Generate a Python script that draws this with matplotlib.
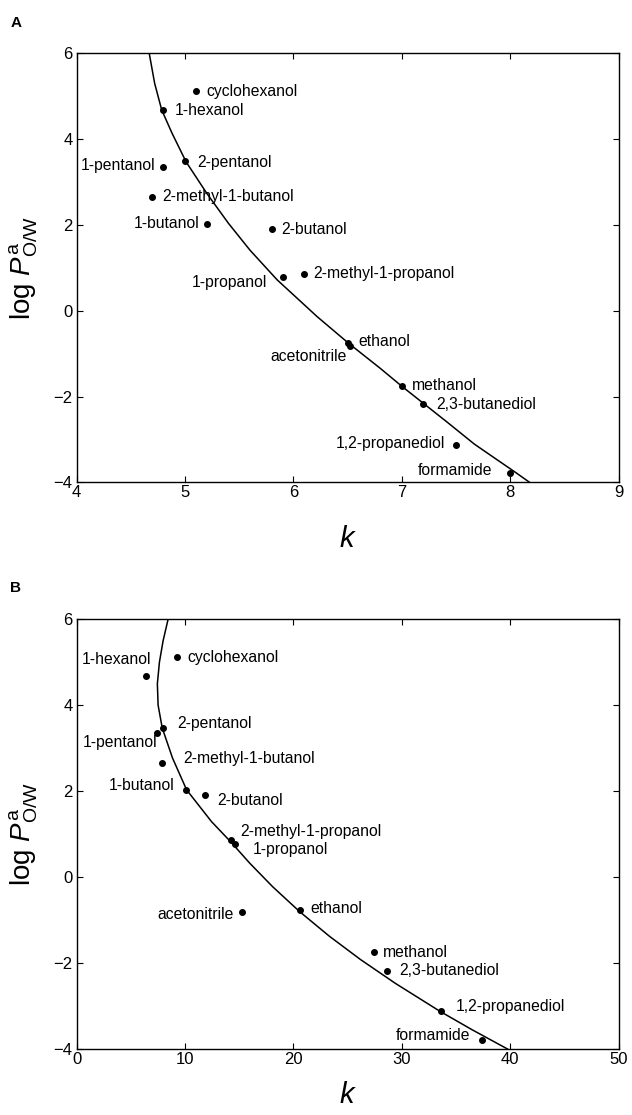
import matplotlib
matplotlib.use("Agg")
import matplotlib.pyplot as plt

plt.rcParams['font.family'] = ['Liberation Sans', 'DejaVu Sans']
plt.rcParams['mathtext.fontset'] = 'custom'
plt.rcParams['mathtext.rm'] = 'Liberation Sans'
plt.rcParams['mathtext.it'] = 'Liberation Sans:italic'

# ==========================
# Data
# ==========================
names = ["cyclohexanol", "1-hexanol", "2-pentanol", "1-pentanol",
         "2-methyl-1-butanol", "1-butanol", "2-butanol", "1-propanol",
         "2-methyl-1-propanol", "ethanol", "acetonitrile", "methanol",
         "2,3-butanediol", "1,2-propanediol", "formamide"]
log_p = [5.12, 4.67, 3.48, 3.36, 2.66, 2.03, 1.90, 0.78, 0.86,
         -0.76, -0.82, -1.75, -2.18, -3.12, -3.78]
k_a = [5.1, 4.8, 5.0, 4.8, 4.7, 5.2, 5.8, 5.9, 6.1,
       6.5, 6.52, 7.0, 7.2, 7.5, 8.0]
k_b = [9.3, 6.4, 8.0, 7.45, 7.9, 10.1, 11.8, 14.6, 14.2,
       20.6, 15.3, 27.4, 28.6, 33.6, 37.4]

# fitted curves
curve_a_k = [4.67, 4.72, 4.785, 4.88, 5.01, 5.20, 5.40, 5.60, 5.85, 6.22,
             6.51, 6.80, 7.00, 7.20, 7.42, 7.67, 8.05, 8.19]
curve_a_logp = [6.0, 5.30, 4.68, 4.14, 3.47, 2.74, 2.04, 1.41, 0.72, -0.14,
                -0.76, -1.34, -1.76, -2.16, -2.60, -3.11, -3.77, -4.02]
curve_b_k = [8.44, 7.98, 7.64, 7.45, 7.52, 7.90, 8.85, 10.15, 12.45, 14.22,
             15.95, 18.07, 20.56, 23.34, 26.2, 29.39, 33.5, 36.47, 39.75]
curve_b_logp = [6.0, 5.5, 5.0, 4.5, 4.0, 3.47, 2.77, 2.03, 1.29, 0.82,
                0.33, -0.22, -0.80, -1.38, -1.92, -2.47, -3.12, -3.55, -4.0]

xticks_a = [4, 5, 6, 7, 8, 9]
xticks_b = [0, 10, 20, 30, 40, 50]
yticks = [-4, -2, 0, 2, 4, 6]

# label placement (offset in points, alignment), same order as names
offs_a = [(7.5, 0, 'left'), (8.4, 0, 'left'), (8.6, -0.5, 'left'), (-5.8, 1, 'right'),
          (7, 0, 'left'), (-5.3, 0, 'right'), (7, 0, 'left'), (-11, -3.6, 'right'),
          (6.7, 0, 'left'), (8, 1.2, 'left'), (-2.5, -7.8, 'right'), (7.5, 0, 'left'),
          (9.4, 0, 'left'), (-8, 0.5, 'right'), (-13, 2, 'right')]
offs_b = [(7.2, 0, 'left'), (3.6, 12, 'right'), (10, 3, 'left'), (0, -7, 'right'),
          (15, 3, 'left'), (-8, 3, 'right'), (9.4, -3.6, 'left'), (13, -4.3, 'left'),
          (7.2, 6.5, 'left'), (7.2, 0.7, 'left'), (-6.5, -1.4, 'right'), (6.5, 0, 'left'),
          (9.4, 0, 'left'), (11, 3.6, 'left'), (-8.6, 3, 'right')]


def draw_panel(ax, k, ck, clogp, xlim, xticks, offs, klabel_y):
    ax.plot(ck, clogp, color='black', lw=1.1)
    ax.plot(k, log_p, 'o', color='black', ms=4)
    for name, x, y, (dx, dy, ha) in zip(names, k, log_p, offs):
        ax.annotate(name, (x, y), xytext=(dx, dy), textcoords='offset points',
                    ha=ha, va='center', fontsize=11.3)
    ax.set_xlim(*xlim)
    ax.set_ylim(-4, 6)
    ax.set_xticks(xticks)
    ax.set_yticks(yticks)
    ax.tick_params(direction='in', top=True, right=True, length=4,
                   labelsize=12, pad=2)
    ax.tick_params(axis='y', pad=3)
    for s in ax.spines.values():
        s.set_linewidth(1.0)
    ax.set_xlabel('$k$', fontsize=21)
    ax.set_ylabel(r'log $P^{\mathrm{a}}_{\mathrm{O/W}}$', fontsize=20)
    ax.xaxis.set_label_coords(0.5, klabel_y)
    ax.yaxis.set_label_coords(-0.068, 0.5)


fig = plt.figure(figsize=(6.32, 11.15), dpi=100)
ax_a = fig.add_axes([0.1212, 0.5674, 0.8576, 0.3848])
ax_b = fig.add_axes([0.1212, 0.0592, 0.8576, 0.3854])

draw_panel(ax_a, k_a, curve_a_k, curve_a_logp, (4, 9), xticks_a, offs_a, -0.10)
draw_panel(ax_b, k_b, curve_b_k, curve_b_logp, (0, 50), xticks_b, offs_b, -0.075)

fig.text(0.025, 1 - 23 / 1115, 'A', fontsize=11, fontweight='bold', ha='center', va='center')
fig.text(0.025, 1 - 588 / 1115, 'B', fontsize=11, fontweight='bold', ha='center', va='center')

fig.savefig('out.png', dpi=100)
